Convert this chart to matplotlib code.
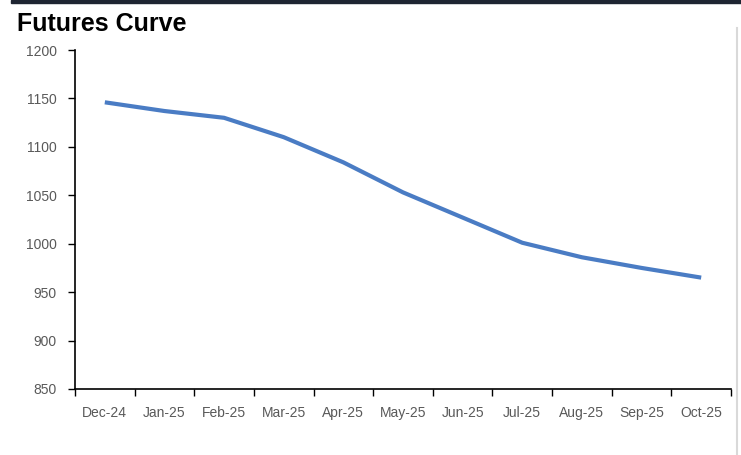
import matplotlib
matplotlib.use("Agg")
import matplotlib.pyplot as plt
from matplotlib.lines import Line2D

months = ["Dec-24", "Jan-25", "Feb-25", "Mar-25", "Apr-25", "May-25",
          "Jun-25", "Jul-25", "Aug-25", "Sep-25", "Oct-25"]
prices = [1146, 1137, 1130, 1110, 1084, 1053, 1027, 1001, 986, 975, 965]
y_ticks = [850, 900, 950, 1000, 1050, 1100, 1150, 1200]
title = "Futures Curve"

plt.rcParams['font.family'] = ['Liberation Sans', 'DejaVu Sans']

fig = plt.figure(figsize=(7.41, 4.55), dpi=100)
ax = fig.add_axes([75 / 741, 1 - 389 / 455, 656 / 741, 339 / 455])

x = list(range(len(months)))
ax.plot(x, prices, color='#4a7cc4', lw=3, solid_capstyle='butt',
        solid_joinstyle='round')

ax.set_xlim(-0.5, len(months) - 0.5)
ax.set_ylim(y_ticks[0], y_ticks[-1])
ax.set_yticks(y_ticks)

# Excel style: tick marks between categories, labels at the centres
ax.set_xticks([i - 0.5 for i in range(len(months) + 1)])
ax.set_xticklabels([])
ax.set_xticks(x, minor=True)
ax.set_xticklabels(months, minor=True)
ax.tick_params(axis='x', which='major', direction='out', length=5, width=1)
ax.tick_params(axis='x', which='minor', length=0, pad=12,
               labelsize=10, labelcolor='#595959')
ax.tick_params(axis='y', direction='out', length=5, width=1, pad=8,
               labelsize=10, labelcolor='#595959')

for side in ['top', 'right']:
    ax.spines[side].set_visible(False)
for side in ['left', 'bottom']:
    ax.spines[side].set_linewidth(1.2)
    ax.spines[side].set_color('black')

# header bar and frame line
fig.patches.append(plt.Rectangle((11 / 741, 1 - 3 / 455), 730 / 741, 3 / 455,
                                 transform=fig.transFigure, color='#1e2532'))
fig.lines.append(Line2D([737 / 741, 737 / 741], [0, 1 - 28 / 455],
                        transform=fig.transFigure, color='#d9d9d9', lw=1.5))

fig.text(17 / 741, 1 - 31 / 455, title, fontsize=18, fontweight='bold',
         color='black', va='baseline', ha='left')

fig.savefig("out.png", dpi=100)
